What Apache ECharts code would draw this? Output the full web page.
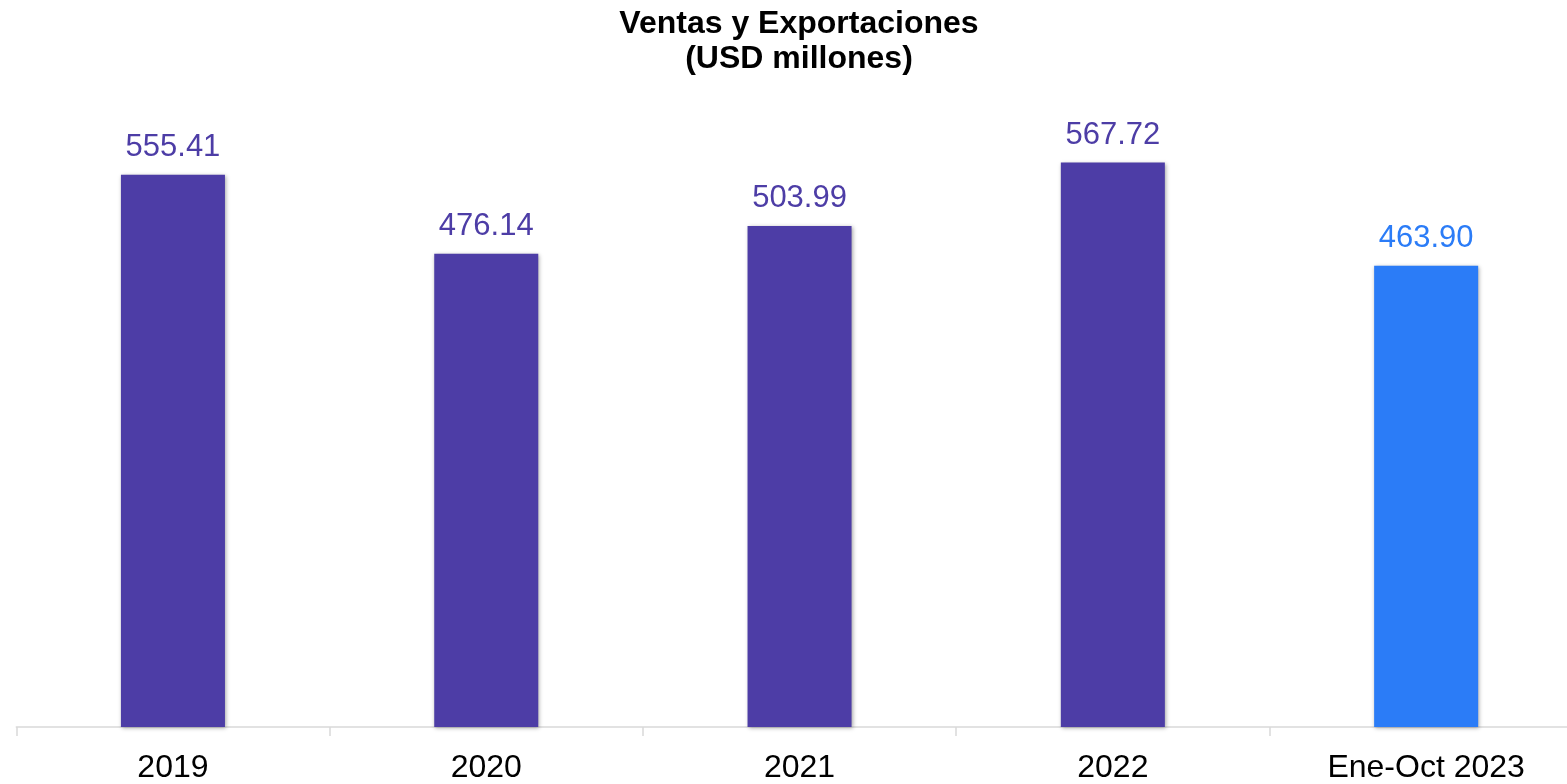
<!DOCTYPE html>
<html>
<head>
<meta charset="utf-8">
<script src="https://cdn.jsdelivr.net/npm/echarts@6/dist/echarts.min.js"></script>
<style>
html,body{margin:0;padding:0;background:#fff;overflow:hidden;width:1567px;height:784px;}
#main{width:1600px;height:784px;}
</style>
</head>
<body>
<div id="main"></div>
<script>
const categories = ['2019', '2020', '2021', '2022', 'Ene-Oct 2023'];
const values = [555.41, 476.14, 503.99, 567.72, 463.90];
const titleLines = ['Ventas y Exportaciones', '(USD millones)'];

const PURPLE = '#4D3DA6';
const BLUE = '#2B7CF7';
const lastIdx = categories.length - 1;

const chart = echarts.init(document.getElementById('main'), null, {renderer: 'canvas'});
chart.setOption({
  animation: false,
  backgroundColor: '#ffffff',
  title: {
    text: titleLines.join('\n'),
    left: 794,
    top: 2,
    textAlign: 'center',
    textStyle: {
      fontFamily: 'Liberation Sans, Arial, sans-serif',
      fontWeight: 'bold',
      fontSize: 32,
      lineHeight: 35,
      color: '#000'
    }
  },
  grid: {left: 16.3, right: 17.2, top: 130.5, bottom: 55, containLabel: false},
  xAxis: {
    type: 'category',
    data: categories,
    boundaryGap: true,
    axisLine: {show: true, lineStyle: {color: '#d9d9d9', width: 1.5}},
    axisTick: {show: true, length: 9, lineStyle: {color: '#d9d9d9', width: 1.5}},
    axisLabel: {
      margin: 25,
      fontFamily: 'Liberation Sans, Arial, sans-serif',
      fontSize: 32,
      color: '#000'
    }
  },
  yAxis: {
    type: 'value',
    min: 0,
    max: 600,
    show: false,
    splitLine: {show: false}
  },
  series: [{
    type: 'bar',
    data: values.map(function (v, i) {
      return {value: v, label: {color: i === lastIdx ? BLUE : PURPLE}};
    }),
    barWidth: '33.2%',
    itemStyle: {
      color: function (p) { return p.dataIndex === lastIdx ? BLUE : PURPLE; },
      shadowColor: 'rgba(0,0,0,0.35)',
      shadowBlur: 4,
      shadowOffsetX: 1,
      shadowOffsetY: 1
    },
    label: {
      show: true,
      position: 'top',
      distance: 12,
      fontFamily: 'Liberation Sans, Arial, sans-serif',
      fontSize: 31,
      formatter: function (p) { return p.value.toFixed(2); }
    }
  }]
});
</script>
</body>
</html>
